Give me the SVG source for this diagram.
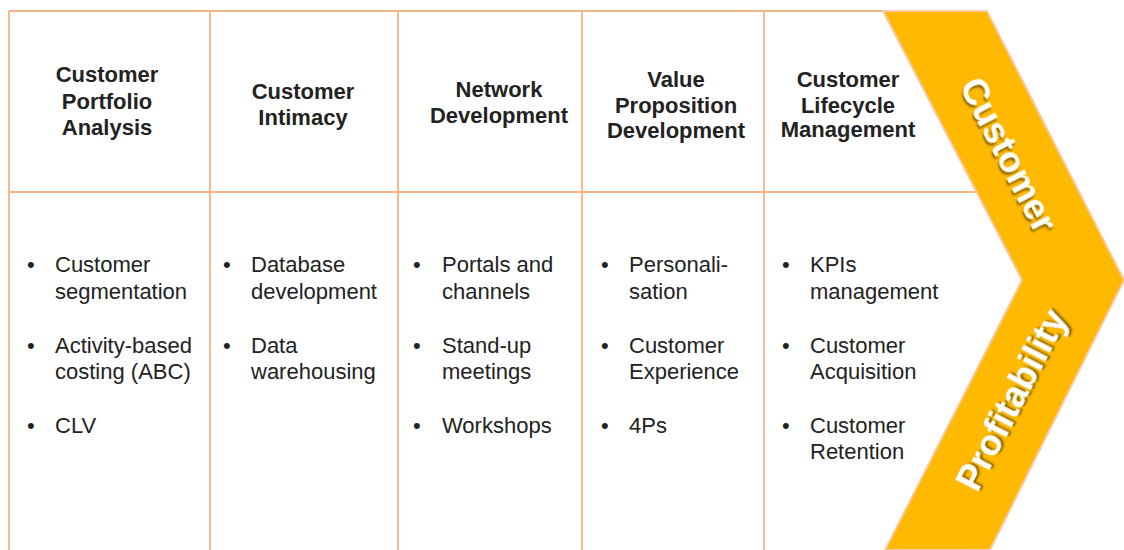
<svg xmlns="http://www.w3.org/2000/svg" width="1124" height="550" viewBox="0 0 1124 550">
<defs>
<style>
.grid{stroke:#F8B385;stroke-width:1.8;fill:none}
.hd{font-family:"Liberation Sans",Arial,sans-serif;font-weight:bold;font-size:22px;fill:#222;text-anchor:middle}
.bd{font-family:"Liberation Sans",Arial,sans-serif;font-size:22px;fill:#222}
.ch{font-family:"Liberation Sans",Arial,sans-serif;font-weight:bold;font-size:36px;fill:#fff;text-anchor:middle}
</style>
<filter id="sh" x="-20%" y="-20%" width="140%" height="140%">
<feDropShadow dx="2" dy="2" stdDeviation="1" flood-color="#000" flood-opacity="0.5"/>
</filter>
</defs>
<rect width="1124" height="550" fill="#fff"/>
<g id="grid">
<path class="grid" d="M9,11 H884 M9,192 H980 M9,11 V550 M210,11 V550 M398,11 V550 M582,11 V550 M764,11 V550"/>
</g>
<g id="chevron">
<polygon points="883,11 987,11 1124,280 990,550 885,550 1022,280" fill="#FFB900" stroke="#F7CBA8" stroke-width="2"/>
<text class="ch" filter="url(#sh)" transform="translate(1008,155) rotate(62.7)" dy="12">Customer</text>
<text class="ch" filter="url(#sh)" transform="translate(1012,400) rotate(-62.7)" dy="12">Profitability</text>
</g>
<g id="col1">
<text class="hd" x="107" y="82">Customer</text>
<text class="hd" x="107" y="109">Portfolio</text>
<text class="hd" x="107" y="135">Analysis</text>
<text class="bd" x="27" y="272">•</text><text class="bd" x="55" y="272">Customer</text>
<text class="bd" x="55" y="299">segmentation</text>
<text class="bd" x="27" y="353">•</text><text class="bd" x="55" y="353">Activity-based</text>
<text class="bd" x="55" y="379">costing (ABC)</text>
<text class="bd" x="27" y="433">•</text><text class="bd" x="55" y="433">CLV</text>
</g>
<g id="col2">
<text class="hd" x="303" y="99">Customer</text>
<text class="hd" x="303" y="125">Intimacy</text>
<text class="bd" x="223" y="272">•</text><text class="bd" x="251" y="272">Database</text>
<text class="bd" x="251" y="299">development</text>
<text class="bd" x="223" y="353">•</text><text class="bd" x="251" y="353">Data</text>
<text class="bd" x="251" y="379">warehousing</text>
</g>
<g id="col3">
<text class="hd" x="499" y="97">Network</text>
<text class="hd" x="499" y="123">Development</text>
<text class="bd" x="413" y="272">•</text><text class="bd" x="442" y="272">Portals and</text>
<text class="bd" x="442" y="299">channels</text>
<text class="bd" x="413" y="353">•</text><text class="bd" x="442" y="353">Stand-up</text>
<text class="bd" x="442" y="379">meetings</text>
<text class="bd" x="413" y="433">•</text><text class="bd" x="442" y="433">Workshops</text>
</g>
<g id="col4">
<text class="hd" x="676" y="87">Value</text>
<text class="hd" x="676" y="113">Proposition</text>
<text class="hd" x="676" y="138">Development</text>
<text class="bd" x="601" y="272">•</text><text class="bd" x="629" y="272">Personali-</text>
<text class="bd" x="629" y="299">sation</text>
<text class="bd" x="601" y="353">•</text><text class="bd" x="629" y="353">Customer</text>
<text class="bd" x="629" y="379">Experience</text>
<text class="bd" x="601" y="433">•</text><text class="bd" x="629" y="433">4Ps</text>
</g>
<g id="col5">
<text class="hd" x="848" y="87">Customer</text>
<text class="hd" x="848" y="113">Lifecycle</text>
<text class="hd" x="848" y="137">Management</text>
<text class="bd" x="782" y="272">•</text><text class="bd" x="810" y="272">KPIs</text>
<text class="bd" x="810" y="299">management</text>
<text class="bd" x="782" y="353">•</text><text class="bd" x="810" y="353">Customer</text>
<text class="bd" x="810" y="379">Acquisition</text>
<text class="bd" x="782" y="433">•</text><text class="bd" x="810" y="433">Customer</text>
<text class="bd" x="810" y="459">Retention</text>
</g>
</svg>
